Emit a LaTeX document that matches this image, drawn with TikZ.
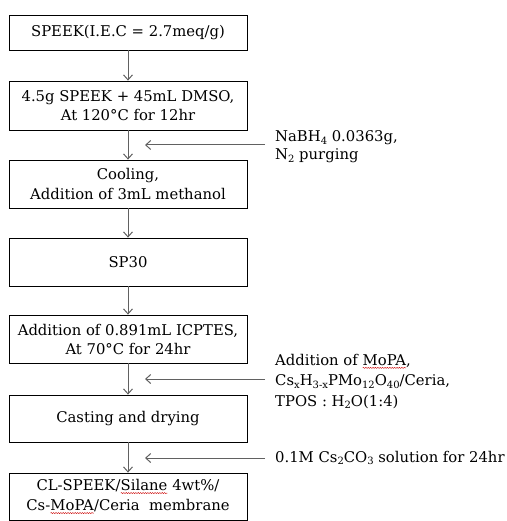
\documentclass[tikz,border=0pt]{standalone}
\usepackage{fontspec}
\setmainfont{DejaVu Serif}
\usetikzlibrary{arrows.meta,decorations.pathmorphing}
\newcommand{\squig}[1]{\tikz[baseline=(w.base)]{\node[draw=none,minimum width=0pt,minimum height=0pt,inner sep=0pt,outer sep=0pt,align=left](w){#1};\draw[red!80!black,line width=0.4pt,decorate,decoration={snake,amplitude=0.55pt,segment length=2.4pt}]([yshift=-2.4pt]w.south west)--([yshift=-2.4pt]w.south east);}}
\newcommand{\lowsub}[1]{\raisebox{-0.35ex}{\fontsize{10}{10}\selectfont #1}}
\begin{document}
\begin{tikzpicture}[x=1pt,y=-1pt,
  stepbox/.style={draw=black,line width=0.8pt,minimum width=238pt,inner sep=0pt,align=center,font=\fontsize{14.8}{19}\selectfont},
  wide/.style={font=\fontsize{14.8}{20}\selectfont},
  flow/.style={draw=black!62,line width=1pt,-{Straight Barb[length=5pt,width=9pt]}},
  sidelabel/.style={anchor=west,align=left,inner sep=0pt,font=\fontsize{14.8}{20.5}\selectfont}]
\useasboundingbox (0,0) rectangle (506,521);
\node[stepbox,minimum height=35pt] (b1) at (128,32.5) {SPEEK(I.E.C = 2.7meq/g)};
\node[stepbox,minimum height=49pt] (b2) at (128,105.5) {4.5g SPEEK + 45mL DMSO,\\At 120\textdegree C for 12hr};
\node[stepbox,wide,minimum height=48pt] (b3) at (128,184) {Cooling,\\Addition of 3mL methanol};
\node[stepbox,minimum height=48pt] (b4) at (128,262) {SP30};
\node[stepbox,minimum height=48pt] (b5) at (128,339) {Addition of 0.891mL ICPTES,\\At 70\textdegree C for 24hr};
\node[stepbox,minimum height=47pt] (b6) at (128,418.5) {Casting and drying};
\node[stepbox,wide,minimum height=47pt] (b7) at (128,496.5) {CL-SPEEK/\squig{Silane} 4wt\%/\\Cs-\squig{MoPA}/Ceria\ \ membrane};
\draw[flow] (b1) -- (b2);
\draw[flow] (b2) -- (b3);
\draw[flow] (b3) -- (b4);
\draw[flow] (b4) -- (b5);
\draw[flow] (b5) -- (b6);
\draw[flow] (b6) -- (b7);
\coordinate (s1) at (265,145); \coordinate (e1) at (145,145);
\coordinate (s2) at (265,379); \coordinate (e2) at (145,379);
\coordinate (s3) at (265,458); \coordinate (e3) at (145,458);
\draw[flow] (s1) -- (e1);
\draw[flow] (s2) -- (e2);
\draw[flow] (s3) -- (e3);
\node[sidelabel,font=\fontsize{14.8}{18}\selectfont] (l1) at (275,147) {NaBH\lowsub{4} 0.0363g,\\N\lowsub{2} purging};
\node[sidelabel] (l2) at (275,381.5) {Addition of \squig{MoPA},\\Cs\lowsub{x}H\lowsub{3-x}PMo\lowsub{12}O\lowsub{40}/Ceria,\\TPOS : H\lowsub{2}O(1:4)};
\node[sidelabel] (l3) at (275,458) {0.1M Cs\lowsub{2}CO\lowsub{3} solution for 24hr};
\end{tikzpicture}
\end{document}
